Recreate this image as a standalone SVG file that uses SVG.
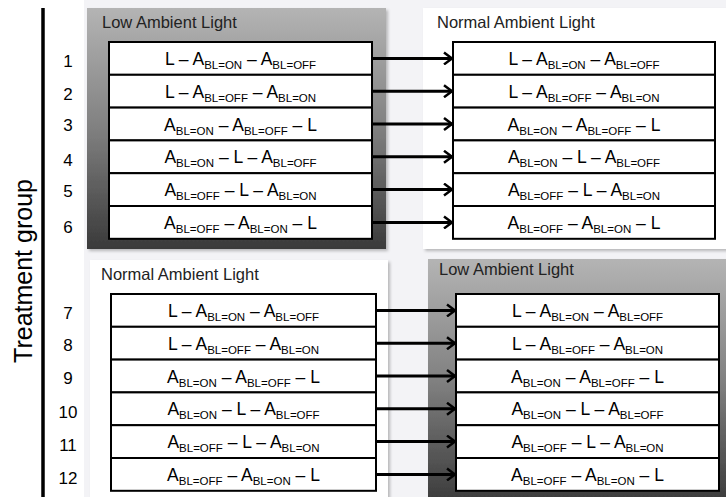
<svg xmlns="http://www.w3.org/2000/svg" width="726" height="497" viewBox="0 0 726 497">
<defs>
<linearGradient id="dark" x1="0" y1="0" x2="0" y2="1">
<stop offset="0" stop-color="#b4b4b4"/>
<stop offset="0.5" stop-color="#808080"/>
<stop offset="1" stop-color="#3a3a3a"/>
</linearGradient>
<filter id="sh" x="-5%" y="-5%" width="110%" height="110%">
<feDropShadow dx="2" dy="2" stdDeviation="1.5" flood-color="#000" flood-opacity="0.25"/>
</filter>
<marker id="ah" markerUnits="userSpaceOnUse" markerWidth="12" markerHeight="14" refX="9" refY="7" orient="auto">
<path d="M1,1 L9,7 L1,13" fill="none" stroke="#000" stroke-width="2.5"/>
</marker>
</defs>
<style>
text{font-family:"Liberation Sans",Arial,sans-serif;fill:#000}
.t{font-size:17.5px;text-anchor:middle}
.s{font-size:11.5px}
.n{font-size:17px;text-anchor:middle}
.title{font-size:16.5px;fill:#222}
.row{fill:#fff;stroke:#000;stroke-width:2}
.ar{stroke:#000;stroke-width:3;fill:none;marker-end:url(#ah)}
</style>
<rect x="0" y="0" width="726" height="497" fill="#fff"/>
<rect x="84" y="0" width="642" height="497" fill="#f3f3f6"/>
<!-- axis -->
<g id="axis">
<line x1="43" y1="8" x2="43" y2="497" stroke="#000" stroke-width="3.5"/>
<text transform="translate(32,271) rotate(-90)" font-size="25" text-anchor="middle">Treatment group</text>
</g>
<g id="numbers">
<text class="n" x="68" y="67">1</text>
<text class="n" x="68" y="100">2</text>
<text class="n" x="68" y="131">3</text>
<text class="n" x="68" y="166">4</text>
<text class="n" x="68" y="197">5</text>
<text class="n" x="68" y="233">6</text>
<text class="n" x="68" y="319">7</text>
<text class="n" x="68" y="351">8</text>
<text class="n" x="68" y="384">9</text>
<text class="n" x="68" y="418">10</text>
<text class="n" x="68" y="451">11</text>
<text class="n" x="68" y="484">12</text>
</g>
<!-- panels -->
<g id="panel-tl">
<rect x="87" y="8" width="299" height="241" fill="url(#dark)" filter="url(#sh)"/>
<text class="title" x="102" y="28">Low Ambient Light</text>
</g>
<g id="panel-tr">
<rect x="423" y="8" width="310" height="241" fill="#fff" filter="url(#sh)"/>
<text class="title" x="437" y="28">Normal Ambient Light</text>
</g>
<g id="panel-bl">
<rect x="90" y="260" width="298" height="245" fill="#fff" filter="url(#sh)"/>
<text class="title" x="101" y="280">Normal Ambient Light</text>
</g>
<g id="panel-br">
<rect x="428" y="259" width="305" height="245" fill="url(#dark)" filter="url(#sh)"/>
<text class="title" x="439" y="275">Low Ambient Light</text>
</g>
<!-- top-left rows -->
<g id="tl1"><rect class="row" x="109" y="42" width="263" height="32.8"/><text class="t" x="240.5" y="65">L – A<tspan class="s" dy="4">BL=ON</tspan><tspan dy="-4"> – A</tspan><tspan class="s" dy="4">BL=OFF</tspan></text></g>
<g id="tl2"><rect class="row" x="109" y="74.8" width="263" height="32.8"/><text class="t" x="240.5" y="97.8">L – A<tspan class="s" dy="4">BL=OFF</tspan><tspan dy="-4"> – A</tspan><tspan class="s" dy="4">BL=ON</tspan></text></g>
<g id="tl3"><rect class="row" x="109" y="107.6" width="263" height="32.8"/><text class="t" x="240.5" y="130.6">A<tspan class="s" dy="4">BL=ON</tspan><tspan dy="-4"> – A</tspan><tspan class="s" dy="4">BL=OFF</tspan><tspan dy="-4"> – L</tspan></text></g>
<g id="tl4"><rect class="row" x="109" y="140.4" width="263" height="32.8"/><text class="t" x="240.5" y="163.4">A<tspan class="s" dy="4">BL=ON</tspan><tspan dy="-4"> – L – A</tspan><tspan class="s" dy="4">BL=OFF</tspan></text></g>
<g id="tl5"><rect class="row" x="109" y="173.2" width="263" height="32.8"/><text class="t" x="240.5" y="196.2">A<tspan class="s" dy="4">BL=OFF</tspan><tspan dy="-4"> – L – A</tspan><tspan class="s" dy="4">BL=ON</tspan></text></g>
<g id="tl6"><rect class="row" x="109" y="206" width="263" height="32.8"/><text class="t" x="240.5" y="229">A<tspan class="s" dy="4">BL=OFF</tspan><tspan dy="-4"> – A</tspan><tspan class="s" dy="4">BL=ON</tspan><tspan dy="-4"> – L</tspan></text></g>
<!-- top-right rows -->
<g id="tr1"><rect class="row" x="453" y="42" width="262" height="32.8"/><text class="t" x="584" y="65">L – A<tspan class="s" dy="4">BL=ON</tspan><tspan dy="-4"> – A</tspan><tspan class="s" dy="4">BL=OFF</tspan></text></g>
<g id="tr2"><rect class="row" x="453" y="74.8" width="262" height="32.8"/><text class="t" x="584" y="97.8">L – A<tspan class="s" dy="4">BL=OFF</tspan><tspan dy="-4"> – A</tspan><tspan class="s" dy="4">BL=ON</tspan></text></g>
<g id="tr3"><rect class="row" x="453" y="107.6" width="262" height="32.8"/><text class="t" x="584" y="130.6">A<tspan class="s" dy="4">BL=ON</tspan><tspan dy="-4"> – A</tspan><tspan class="s" dy="4">BL=OFF</tspan><tspan dy="-4"> – L</tspan></text></g>
<g id="tr4"><rect class="row" x="453" y="140.4" width="262" height="32.8"/><text class="t" x="584" y="163.4">A<tspan class="s" dy="4">BL=ON</tspan><tspan dy="-4"> – L – A</tspan><tspan class="s" dy="4">BL=OFF</tspan></text></g>
<g id="tr5"><rect class="row" x="453" y="173.2" width="262" height="32.8"/><text class="t" x="584" y="196.2">A<tspan class="s" dy="4">BL=OFF</tspan><tspan dy="-4"> – L – A</tspan><tspan class="s" dy="4">BL=ON</tspan></text></g>
<g id="tr6"><rect class="row" x="453" y="206" width="262" height="32.8"/><text class="t" x="584" y="229">A<tspan class="s" dy="4">BL=OFF</tspan><tspan dy="-4"> – A</tspan><tspan class="s" dy="4">BL=ON</tspan><tspan dy="-4"> – L</tspan></text></g>
<!-- bottom-left rows -->
<g id="bl7"><rect class="row" x="111" y="294" width="265" height="32.8"/><text class="t" x="243.5" y="317">L – A<tspan class="s" dy="4">BL=ON</tspan><tspan dy="-4"> – A</tspan><tspan class="s" dy="4">BL=OFF</tspan></text></g>
<g id="bl8"><rect class="row" x="111" y="326.8" width="265" height="32.8"/><text class="t" x="243.5" y="349.8">L – A<tspan class="s" dy="4">BL=OFF</tspan><tspan dy="-4"> – A</tspan><tspan class="s" dy="4">BL=ON</tspan></text></g>
<g id="bl9"><rect class="row" x="111" y="359.6" width="265" height="32.8"/><text class="t" x="243.5" y="382.6">A<tspan class="s" dy="4">BL=ON</tspan><tspan dy="-4"> – A</tspan><tspan class="s" dy="4">BL=OFF</tspan><tspan dy="-4"> – L</tspan></text></g>
<g id="bl10"><rect class="row" x="111" y="392.4" width="265" height="32.8"/><text class="t" x="243.5" y="415.4">A<tspan class="s" dy="4">BL=ON</tspan><tspan dy="-4"> – L – A</tspan><tspan class="s" dy="4">BL=OFF</tspan></text></g>
<g id="bl11"><rect class="row" x="111" y="425.2" width="265" height="32.8"/><text class="t" x="243.5" y="448.2">A<tspan class="s" dy="4">BL=OFF</tspan><tspan dy="-4"> – L – A</tspan><tspan class="s" dy="4">BL=ON</tspan></text></g>
<g id="bl12"><rect class="row" x="111" y="458" width="265" height="32.8"/><text class="t" x="243.5" y="481">A<tspan class="s" dy="4">BL=OFF</tspan><tspan dy="-4"> – A</tspan><tspan class="s" dy="4">BL=ON</tspan><tspan dy="-4"> – L</tspan></text></g>
<!-- bottom-right rows -->
<g id="br7"><rect class="row" x="456" y="294" width="263" height="32.8"/><text class="t" x="587.5" y="317">L – A<tspan class="s" dy="4">BL=ON</tspan><tspan dy="-4"> – A</tspan><tspan class="s" dy="4">BL=OFF</tspan></text></g>
<g id="br8"><rect class="row" x="456" y="326.8" width="263" height="32.8"/><text class="t" x="587.5" y="349.8">L – A<tspan class="s" dy="4">BL=OFF</tspan><tspan dy="-4"> – A</tspan><tspan class="s" dy="4">BL=ON</tspan></text></g>
<g id="br9"><rect class="row" x="456" y="359.6" width="263" height="32.8"/><text class="t" x="587.5" y="382.6">A<tspan class="s" dy="4">BL=ON</tspan><tspan dy="-4"> – A</tspan><tspan class="s" dy="4">BL=OFF</tspan><tspan dy="-4"> – L</tspan></text></g>
<g id="br10"><rect class="row" x="456" y="392.4" width="263" height="32.8"/><text class="t" x="587.5" y="415.4">A<tspan class="s" dy="4">BL=ON</tspan><tspan dy="-4"> – L – A</tspan><tspan class="s" dy="4">BL=OFF</tspan></text></g>
<g id="br11"><rect class="row" x="456" y="425.2" width="263" height="32.8"/><text class="t" x="587.5" y="448.2">A<tspan class="s" dy="4">BL=OFF</tspan><tspan dy="-4"> – L – A</tspan><tspan class="s" dy="4">BL=ON</tspan></text></g>
<g id="br12"><rect class="row" x="456" y="458" width="263" height="32.8"/><text class="t" x="587.5" y="481">A<tspan class="s" dy="4">BL=OFF</tspan><tspan dy="-4"> – A</tspan><tspan class="s" dy="4">BL=ON</tspan><tspan dy="-4"> – L</tspan></text></g>
<!-- connectors -->
<g id="connectors">
<line class="ar" x1="372" y1="58.4" x2="452" y2="58.4"/>
<line class="ar" x1="372" y1="91.2" x2="452" y2="91.2"/>
<line class="ar" x1="372" y1="124" x2="452" y2="124"/>
<line class="ar" x1="372" y1="156.8" x2="452" y2="156.8"/>
<line class="ar" x1="372" y1="189.6" x2="452" y2="189.6"/>
<line class="ar" x1="372" y1="222.4" x2="452" y2="222.4"/>
<line class="ar" x1="376" y1="310.4" x2="455" y2="310.4"/>
<line class="ar" x1="376" y1="343.2" x2="455" y2="343.2"/>
<line class="ar" x1="376" y1="376" x2="455" y2="376"/>
<line class="ar" x1="376" y1="408.8" x2="455" y2="408.8"/>
<line class="ar" x1="376" y1="441.6" x2="455" y2="441.6"/>
<line class="ar" x1="376" y1="474.4" x2="455" y2="474.4"/>
</g>
</svg>
